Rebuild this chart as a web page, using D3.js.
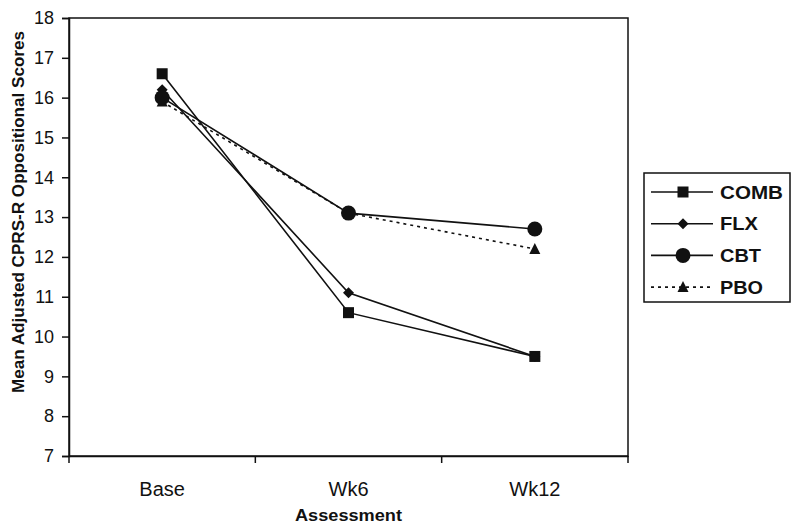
<!DOCTYPE html>
<html><head><meta charset="utf-8">
<script src="https://cdn.jsdelivr.net/npm/d3@7"></script>
<style>body{margin:0;background:#fff}svg{display:block}text{font-family:Arial,"Liberation Sans",sans-serif;fill:#111}</style>
</head><body><svg id="c" width="800" height="529"></svg>
<script>
const categories = ["Base", "Wk6", "Wk12"];
const seriesNames = ["COMB", "FLX", "CBT", "PBO"];
const COMB = [16.6, 10.6, 9.5];
const FLX  = [16.2, 11.1, 9.5];
const CBT  = [16.0, 13.1, 12.7];
const PBO  = [15.9, 13.1, 12.2];
const yTicks = [7, 8, 9, 10, 11, 12, 13, 14, 15, 16, 17, 18];

const series = [
  {name: "COMB", values: COMB, marker: "square", dash: null},
  {name: "FLX", values: FLX, marker: "diamond", dash: null},
  {name: "CBT", values: CBT, marker: "circle", dash: null},
  {name: "PBO", values: PBO, marker: "triangle", dash: "3,4"}
];

const svg = d3.select("#c");
const L = 69, R = 628, T = 18, B = 456;
const ink = "#111";
const FONT = "Arial, 'Liberation Sans', sans-serif";

const x = d3.scaleBand().domain(categories).range([L, R]).paddingInner(0).paddingOuter(0);
const y = d3.scaleLinear().domain([7, 18]).range([B, T]);

svg.append("rect").attr("x", L).attr("y", T).attr("width", R - L).attr("height", B - T)
  .attr("fill", "none").attr("stroke", ink).attr("stroke-width", 1.5);

const ya = svg.append("g").attr("transform", `translate(${L},0)`)
  .call(d3.axisLeft(y).tickValues(yTicks).tickSize(7).tickPadding(8).tickFormat(d3.format("d")));
ya.select(".domain").attr("stroke", ink).attr("stroke-width", 1.5);
ya.selectAll(".tick line").attr("stroke", ink).attr("stroke-width", 1.5);
ya.selectAll(".tick text").attr("font-size", 18).attr("fill", ink).attr("font-family", FONT);

const xa = svg.append("g").attr("transform", `translate(0,${B})`)
  .call(d3.axisBottom(x).tickSize(0).tickPadding(26));
xa.select(".domain").attr("stroke", ink).attr("stroke-width", 1.5);
xa.selectAll(".tick text").attr("font-size", 20).attr("fill", ink).attr("font-family", FONT);
const bounds = categories.map(c => x(c)).concat([x(categories[categories.length - 1]) + x.bandwidth()]);
svg.append("g").selectAll("line").data(bounds).join("line")
  .attr("x1", d => d).attr("x2", d => d).attr("y1", B).attr("y2", B + 7)
  .attr("stroke", ink).attr("stroke-width", 1.5);

svg.append("text").attr("x", (L + R) / 2).attr("y", 521).attr("text-anchor", "middle")
  .attr("font-size", 16.5).attr("font-weight", "bold")
  .attr("textLength", 107).attr("lengthAdjust", "spacingAndGlyphs").text("Assessment");
svg.append("text").attr("transform", "translate(24,212) rotate(-90)").attr("text-anchor", "middle")
  .attr("font-size", 16.5).attr("font-weight", "bold")
  .attr("textLength", 362).attr("lengthAdjust", "spacingAndGlyphs")
  .text("Mean Adjusted CPRS-R Oppositional Scores");

function drawMarker(g, type, cx, cy) {
  if (type === "square") {
    g.append("rect").attr("x", cx - 5.5).attr("y", cy - 5.5).attr("width", 11).attr("height", 11).attr("fill", ink);
  } else if (type === "diamond") {
    g.append("path").attr("d", `M${cx},${cy-5.5}L${cx+5.5},${cy}L${cx},${cy+5.5}L${cx-5.5},${cy}Z`).attr("fill", ink);
  } else if (type === "circle") {
    g.append("circle").attr("cx", cx).attr("cy", cy).attr("r", 7.5).attr("fill", ink);
  } else if (type === "triangle") {
    g.append("path").attr("d", `M${cx},${cy-6}L${cx+5.5},${cy+5}L${cx-5.5},${cy+5}Z`).attr("fill", ink);
  }
}

const cx = c => x(c) + x.bandwidth() / 2;
const line = d3.line().x((d, i) => cx(categories[i])).y(d => y(d));

series.forEach(s => {
  svg.append("path").attr("d", line(s.values)).attr("fill", "none")
    .attr("stroke", ink).attr("stroke-width", 1.6)
    .attr("stroke-dasharray", s.dash);
});
series.forEach(s => {
  const g = svg.append("g");
  s.values.forEach((v, i) => drawMarker(g, s.marker, cx(categories[i]), y(v)));
});

const lg = svg.append("g");
lg.append("rect").attr("x", 644).attr("y", 173).attr("width", 146).attr("height", 129)
  .attr("fill", "#fff").attr("stroke", ink).attr("stroke-width", 1.5);
const legendWidths = {COMB: 63, FLX: 38, CBT: 41, PBO: 43};
series.forEach((s, i) => {
  const yy = 192 + i * 31.7;
  lg.append("line").attr("x1", 651).attr("x2", 713).attr("y1", yy).attr("y2", yy)
    .attr("stroke", ink).attr("stroke-width", 1.6).attr("stroke-dasharray", s.dash);
  drawMarker(lg, s.marker, 683, yy);
  lg.append("text").attr("x", 720).attr("y", yy + 6.5).attr("font-size", 18.5).attr("font-weight", "bold")
    .attr("textLength", legendWidths[s.name]).attr("lengthAdjust", "spacingAndGlyphs")
    .text(s.name);
});
</script></body></html>
